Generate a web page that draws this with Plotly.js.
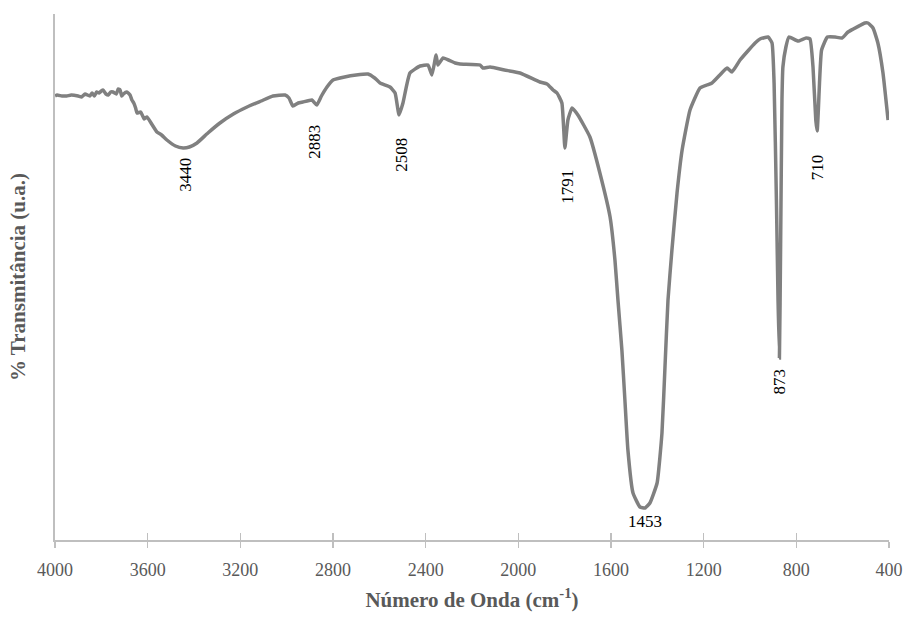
<!DOCTYPE html>
<html>
<head>
<meta charset="utf-8">
<script src="https://cdn.plot.ly/plotly-3.0.1.min.js"></script>
<style>html,body{margin:0;padding:0;background:#fff}#chart{width:909px;height:637px}</style>
</head>
<body>
<div id="chart"></div>
<script>
// Wavenumber (cm-1)
const wavenumber = [4000,3991,3970,3950,3930,3900,3885,3870,3850,3840,3830,3820,3810,3800,3793,3780,3770,3760,3750,3735,3727,3719,3712,3705,3690,3676,3668,3660,3652,3646,3630,3615,3603,3580,3560,3540,3517,3480,3447,3420,3387,3340,3288,3230,3171,3110,3059,3007,2990,2973,2950,2930,2891,2870,2850,2826,2800,2750,2700,2649,2620,2597,2554,2532,2515,2498,2468,2424,2390,2373,2355,2347,2325,2273,2252,2165,2153,2122,2060,1993,1907,1876,1850,1833,1812,1799,1786,1768,1743,1691,1648,1604,1583,1570,1553,1540,1527,1505,1475,1453,1432,1401,1380,1367,1354,1337,1315,1293,1259,1216,1186,1164,1130,1099,1078,1043,978,957,922,905,896,886,879,873,868,862,858,845,832,793,758,741,728,716,710,705,700,691,666,633,603,577,538,504,491,469,448,426,404];
// Transmittance (arbitrary units)
const transmittance = [444,445,444,444,445,444,443,446,444,447,444,448,447,449,450,446,445,448,448,446,451,450,444,446,448,445,440,437,432,427,428,421,423,415,408,405,400,394,392,393,397,407,417,426,433,439,444,445,442,434,437,438,440,435,444,453,460,463,465,466,462,457,453,447,425,437,467,474,475,465,485,475,482,477,476,475,472,473,470,467,458,456,450,447,437,392,420,432,425,403,367,323,280,240,190,140,90,47,33,32,37,57,107,173,240,290,347,390,430,452,455,457,465,472,468,480,497,501,503,497,457,340,240,182,290,440,473,493,503,499,502,501,473,420,409,430,457,490,503,503,502,508,513,517,517,512,497,467,420];
const peakLabels = ["3440","2883","2508","1791","1453","873","710"];
const peakX = [3440,2883,2508,1791,1453,873,710];
const peakLabelY = [365,398,385,353,19,159,373];
const peakAngle = [-90,-90,-90,-90,0,-90,-90];
const tickVals = [4000,3600,3200,2800,2400,2000,1600,1200,800,400];

const serif = '"Liberation Serif", "Times New Roman", serif';
const annotations = peakLabels.map((t,i)=>({
  x: peakX[i], y: peakLabelY[i], xref:'x', yref:'y', text: t, showarrow:false,
  textangle: peakAngle[i], font:{family:serif, size:17, color:'#000'}
}));

const trace = {x: wavenumber, y: transmittance, type:'scatter', mode:'lines',
  line:{color:'#808080', width:3.5, shape:'spline', smoothing:0.4}, hoverinfo:'skip', showlegend:false};
const trace2 = {x:[4000], y:[0], xaxis:'x2', yaxis:'y', mode:'markers', marker:{opacity:0}, showlegend:false, hoverinfo:'skip'};

const layout = {
  width:909, height:637,
  margin:{l:55, r:20, t:14, b:97},
  paper_bgcolor:'#fff', plot_bgcolor:'#fff',
  font:{family:serif, color:'#595959'},
  xaxis:{range:[4000,400], autorange:false, tickvals:tickVals, ticktext:tickVals.map(String),
    showgrid:false, zeroline:false, showline:true, linecolor:'#bfbfbf', linewidth:2,
    ticks:'outside', ticklen:6, tickwidth:1.5, tickcolor:'#bfbfbf',
    tickfont:{size:18, color:'#595959'}, ticklabelstandoff:6,
    title:{text:'<b>Número de Onda (cm<sup>-1</sup>)</b>', font:{size:21, color:'#595959'}, standoff:14}},
  xaxis2:{range:[4000,400], autorange:false, overlaying:'x', tickvals:tickVals, showticklabels:false,
    showgrid:false, zeroline:false, showline:false, ticks:'inside', ticklen:7, tickwidth:1.5, tickcolor:'#bfbfbf'},
  yaxis:{range:[0,526], autorange:false, showgrid:false, zeroline:false, showline:true, linecolor:'#bfbfbf', linewidth:2,
    ticks:'', showticklabels:false,
    title:{text:'<b>% Transmitância (u.a.)</b>', font:{size:21, color:'#595959'}, standoff:22}},
  annotations: annotations
};
Plotly.newPlot('chart',[trace, trace2],layout,{displayModeBar:false, staticPlot:true});
</script>
</body>
</html>
